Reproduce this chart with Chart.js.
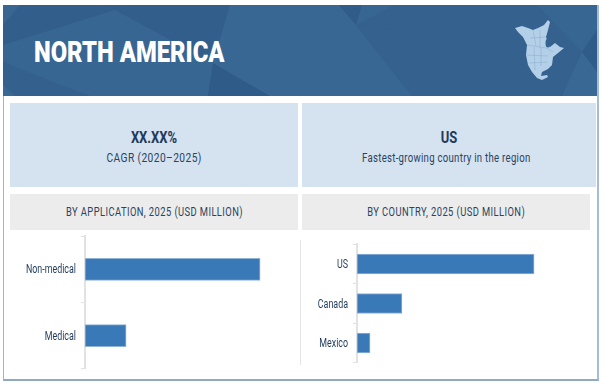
<!DOCTYPE html>
<html><head><meta charset="utf-8">
<script src="https://cdn.jsdelivr.net/npm/chart.js"></script>
<style>
html,body{margin:0;padding:0;background:#fff;width:604px;height:385px;overflow:hidden}
#page{position:relative;width:604px;height:385px;font-family:Roboto,"Liberation Sans",sans-serif;color:#1f3a5a}
.box{position:absolute;text-align:center}
.blue{background:#d5e2f0}.grey{background:#ececec}
#frame{position:absolute;left:3px;top:5px;width:593px;height:373px;border:1px solid #9db4cc;border-bottom:2px solid #8fa9c4;border-right:2px solid #a5bcd4;box-sizing:content-box}
svg{position:absolute;left:0;top:0}
#title{position:absolute;left:34px;top:34px;font-size:29px;font-weight:900;color:#fff;line-height:36px;white-space:nowrap;transform:scaleX(.82);transform-origin:0 50%}
.big{position:absolute;left:0;right:0;top:25px;font-size:16px;font-weight:700;line-height:20px;transform:scaleX(.81)}
.sub{position:absolute;left:0;right:0;top:47px;font-size:12px;line-height:16px;white-space:nowrap;letter-spacing:.5px;color:#2a4360}
.hd{font-size:12px;line-height:36px;letter-spacing:.55px;color:#2a4360}
.hd span,.sub span{display:inline-block;white-space:nowrap}
canvas{position:absolute}
#sep{position:absolute;left:300px;top:240px;width:1px;height:125px;background:#e4e4e4}
</style></head><body><div id="page">
<div id="frame"></div>
<svg width="604" height="96" viewBox="0 0 604 96">
<rect x="3" y="5" width="594" height="91" fill="#34618e"/>
<polygon points="3,5 230,5 213,63 115,10 3,45" fill="#325e8b"/>
<polygon points="3,5 20,5 3,25" fill="#386691"/>
<polygon points="3,45 115,10 213,63 208,96 90,96 60,85 3,62" fill="#386692"/>
<polygon points="3,62 60,85 90,96 3,96" fill="#34608e"/>
<polygon points="3,85 15,96 3,96" fill="#3a6894"/>
<polygon points="213,63 208,96 270,96" fill="#2f5b88"/>
<polygon points="230,5 339,5 356,25 412,96 270,96 213,63" fill="#396793"/>
<polygon points="339,5 362,5 356,25" fill="#305c89"/>
<polygon points="362,5 394,5 356,25" fill="#386692"/>
<polygon points="356,25 582,52 545,96 412,96" fill="#34618e"/>
<polygon points="537,5 597,5 597,30 582,52" fill="#386692"/>
<polygon points="582,52 597,30 597,72" fill="#305c89"/>
<polygon points="582,52 597,72 597,96 562,96" fill="#3a6894"/>
<polygon points="515,28 522,26 528,28 533,30 538,28 544,25 548,20 550,22 548,30 546,37 550,47 555,43 560,47 564,48 558,53 553,57 552,65 548,69 542,72 541,76 547,75 548,77 542,80 537,78 532,72 528,65 526,55 527,45 523,37 518,32" fill="#b4cfe8"/>
<ellipse cx="548" cy="43" rx="2.5" ry="4.5" fill="#35628f"/>
<path d="M527 45 L546 48 L553 52 M527 55 L548 56 M529 63 L547 62 M533 30 L536 46 M540 30 L540 48 M534 47 L535 70 M541 48 L541 66 M530 38 L546 37" stroke="#7fa3c6" stroke-width=".4" fill="none"/>
</svg>
<div id="title">NORTH AMERICA</div>
<div class="box blue" style="left:10px;top:103px;width:288px;height:84px"><div class="big">XX.XX%</div><div class="sub"><span style="transform:scaleX(.85)">CAGR (2020–2025)</span></div></div>
<div class="box blue" style="left:302px;top:103px;width:294px;height:84px"><div class="big">US</div><div class="sub" style="right:6px"><span style="transform:scaleX(.8);letter-spacing:.35px">Fastest-growing country in the region</span></div></div>
<div class="box grey hd" style="left:10px;top:194px;width:288px;height:36px"><span style="transform:scaleX(.78)">BY APPLICATION, 2025 (USD MILLION)</span></div>
<div class="box grey hd" style="left:302px;top:194px;width:288px;height:36px"><span style="transform:scaleX(.78)">BY COUNTRY, 2025 (USD MILLION)</span></div>
<div id="sep"></div>
<canvas id="c1" style="left:10px;top:224px;width:288px;height:157px" width="288" height="157"></canvas>
<canvas id="c2" style="left:302px;top:232px;width:288px;height:143px" width="288" height="143"></canvas>
</div>
<script>
const applicationLabels = ["Non-medical","Medical"];
const applicationValues = [82.2,19.3];
const countryLabels = ["US","Canada","Mexico"];
const countryValues = [76,19.3,5.6];
const barColor = "#3a79b7";
const axisColor = "#e2e2e2";
const labelColor = "#1f3a5a";
const narrowText = {id:"narrowText",beforeDraw(chart){
  const ctx=chart.ctx;
  if(ctx._narrow) return;
  const orig=ctx.fillText;
  ctx.fillText=function(t,x,y){this.save();this.translate(x,y+1);this.scale(.74,1);orig.call(this,t,0,0);this.restore();};
  ctx._narrow=true;
}};
function draw(id,labels,values,axisWidth,thick){
  new Chart(document.getElementById(id),{
    type:"bar",
    plugins:[narrowText],
    data:{labels:labels,datasets:[{data:values,backgroundColor:barColor,borderColor:"#8fb4d8",borderWidth:1,barThickness:thick,borderSkipped:false}]},
    options:{indexAxis:"y",responsive:false,animation:false,
      plugins:{legend:{display:false},tooltip:{enabled:false}},
      scales:{
        x:{min:0,max:100,display:false,grid:{display:false}},
        y:{offset:true,border:{color:axisColor,width:2},
           grid:{drawOnChartArea:false,drawTicks:true,tickLength:4,color:axisColor,offset:true},
           afterFit(s){s.width=axisWidth},
           ticks:{color:labelColor,padding:5,font:{family:'Roboto,sans-serif',size:12}}}
      }}});
}
draw("c1",applicationLabels,applicationValues,75,22);
draw("c2",countryLabels,countryValues,55,20);
</script></body></html>
